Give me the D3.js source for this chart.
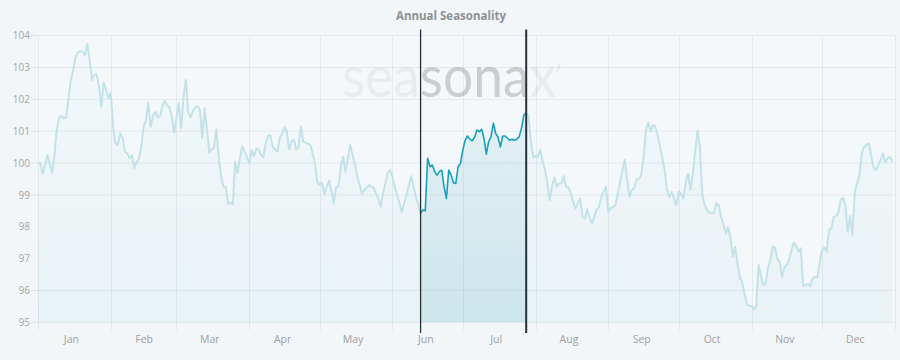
<!DOCTYPE html>
<html><head><meta charset="utf-8">
<script src="https://cdn.jsdelivr.net/npm/d3@7/dist/d3.min.js"></script>
<style>
html,body{margin:0;padding:0;background:#f3f6f9;}
svg{display:block;}
</style></head>
<body>
<svg id="chart" width="900" height="360"></svg>
<script>
const title = "Annual Seasonality";
const monthLabels = ["Jan","Feb","Mar","Apr","May","Jun","Jul","Aug","Sep","Oct","Nov","Dec"];
const yTickLabels = [104,103,102,101,100,99,98,97,96,95];
const gridValues = [104,103,102,101,100,99,96,95];
const highlightStartDay = 163; // Jun 13
const highlightEndDay = 208;   // Jul 28
const days = [0,1,2,4,6,7,8,9,10,11,12,13,14,15,16,17,18,19,20,21,22,23,24,25,26,27,28,29,30,31,32,33,34,35,36,37,38,39,40,41,42,43,44,45,46,47,48,49,50,51,52,53,54,55,56,57,58,60,61,62,63,64,65,66,67,68,69,70,71,72,73,74,75,76,77,78,79,80,81,82,83,84,85,86,87,88,90,91,92,93,94,95,96,97,98,99,100,102,103,104,105,106,107,108,109,110,111,112,113,114,116,117,118,119,120,121,122,123,124,125,126,127,128,129,130,131,132,133,134,135,136,137,138,139,141,142,143,144,145,146,147,148,149,150,151,152,154,155,156,157,159,160,161,162,163,164,165,166,167,168,169,170,171,172,173,174,175,176,177,178,179,180,181,182,183,184,185,186,187,188,189,190,191,192,193,194,195,196,197,198,199,200,201,202,203,204,205,206,207,208,209,210,211,212,213,214,215,216,217,218,219,220,221,222,223,224,225,226,227,228,229,230,231,232,233,234,235,236,237,238,239,240,241,242,243,244,245,246,247,248,249,250,251,252,253,254,255,256,257,258,259,260,261,262,263,264,265,266,267,268,269,270,271,272,273,274,275,276,277,278,279,280,281,282,283,284,285,286,288,289,290,291,292,293,294,295,296,297,298,299,300,301,302,303,304,305,306,307,308,309,310,311,312,313,314,315,316,317,318,319,320,321,322,323,324,325,326,327,328,329,330,331,332,333,334,335,336,337,338,339,340,341,342,343,344,345,346,347,348,349,350,351,352,353,354,355,356,357,358,359,360,361,362,363,364];
const values = [100.0,100.0,99.66,100.25,99.70,100.25,101.04,101.44,101.48,101.40,101.44,102.03,102.61,102.92,103.32,103.47,103.52,103.50,103.39,103.74,103.24,102.61,102.77,102.79,102.40,101.77,102.53,102.30,102.03,102.21,101.14,100.62,100.57,100.93,100.81,100.36,100.31,100.15,100.25,99.84,100.04,100.12,100.51,101.14,101.35,101.90,101.14,101.48,101.61,101.44,101.48,101.79,101.96,101.82,101.75,101.46,100.95,101.88,101.09,102.08,102.61,101.61,101.44,101.64,101.75,101.79,101.67,100.78,101.72,101.04,100.33,100.43,100.49,101.06,100.20,99.57,99.26,99.26,98.71,98.76,98.71,100.04,99.68,100.15,100.54,100.36,99.99,100.41,100.22,100.46,100.43,100.25,100.18,100.62,100.85,100.88,100.51,100.36,100.78,100.93,101.14,100.99,100.43,100.67,100.75,100.43,100.51,101.16,100.67,100.64,100.57,100.31,99.99,99.41,99.31,99.38,99.03,99.26,99.45,99.15,98.74,99.24,99.26,99.89,100.20,99.73,100.15,100.57,100.25,99.99,99.57,99.34,99.05,99.15,99.31,99.24,99.24,99.05,98.89,98.63,99.05,99.36,99.70,99.78,99.57,99.26,98.74,98.47,98.74,99.00,99.59,99.26,98.94,98.71,98.42,98.53,98.50,100.15,99.89,99.94,99.73,99.62,99.73,99.78,99.26,98.89,99.78,99.63,99.38,99.36,99.89,99.99,100.41,100.72,100.85,100.75,100.70,100.81,101.04,100.99,101.06,100.78,100.28,100.67,100.83,101.25,100.93,100.81,100.51,100.85,100.85,100.78,100.72,100.75,100.72,100.75,100.83,101.09,101.51,101.58,101.46,100.67,100.18,100.22,100.20,100.43,100.04,99.78,99.41,98.84,99.26,99.55,99.26,99.36,99.36,99.59,99.26,99.24,99.05,98.79,98.58,98.74,98.89,98.31,98.26,98.55,98.30,98.09,98.31,98.55,98.61,98.94,99.10,99.26,98.47,98.60,98.62,98.68,99.05,99.41,99.78,100.10,99.47,98.94,99.15,99.21,99.49,99.49,99.63,100.15,101.04,101.27,100.99,101.20,101.14,100.88,100.51,100.15,99.78,99.15,98.94,99.10,98.89,98.68,99.10,99.04,98.89,99.41,99.66,99.15,99.68,100.36,101.02,100.51,99.05,98.68,98.53,98.44,98.44,98.74,98.68,98.31,98.10,97.79,97.98,97.69,97.06,97.37,96.85,96.43,96.27,95.91,95.57,95.51,95.51,95.41,95.52,96.80,96.48,96.17,96.22,96.69,96.96,97.37,97.35,96.98,96.90,96.43,96.73,96.80,96.98,97.25,97.50,97.40,97.22,97.32,96.15,96.17,96.20,96.14,96.38,96.43,96.41,96.85,97.25,97.35,97.22,97.90,97.95,98.31,98.34,98.44,98.84,98.91,98.68,97.84,98.34,97.74,99.10,99.36,99.63,100.31,100.51,100.57,100.62,100.20,99.87,99.78,99.94,100.10,100.30,100.02,100.15,100.20,100.04];

(function(){
const start = new Date(2023,0,1);
const data = days.map((d,i)=>({date:d3.timeDay.offset(start,d), value:values[i], day:d}));

const svg = d3.select("#chart");
const pL = 38, pR = 894.7, pT = 35.7, pB = 322.3;
const x = d3.scaleTime().domain([start, new Date(2024,0,1)]).range([pL,pR]);
const y = d3.scaleLinear().domain([95,104]).range([pB,pT]);
const hx0 = x(d3.timeDay.offset(start,highlightStartDay));
const hx1 = x(d3.timeDay.offset(start,highlightEndDay));

const defs = svg.append("defs");
const g1 = defs.append("linearGradient").attr("id","areaGrad").attr("gradientUnits","userSpaceOnUse")
  .attr("x1",0).attr("x2",0).attr("y1",pT).attr("y2",pB);
g1.append("stop").attr("offset","0").attr("stop-color","#f2f8fa");
g1.append("stop").attr("offset","1").attr("stop-color","#e9f2f5");
const g2 = defs.append("linearGradient").attr("id","hiGrad").attr("gradientUnits","userSpaceOnUse")
  .attr("x1",0).attr("x2",0).attr("y1",pT).attr("y2",pB);
g2.append("stop").attr("offset","0").attr("stop-color","#eaf5f8");
g2.append("stop").attr("offset","1").attr("stop-color","#cde5ec");
defs.append("clipPath").attr("id","clipIn").append("rect")
  .attr("x",hx0).attr("y",0).attr("width",hx1-hx0).attr("height",360);
const cl = defs.append("clipPath").attr("id","clipOut");
cl.append("rect").attr("x",0).attr("y",0).attr("width",hx0).attr("height",360);
cl.append("rect").attr("x",hx1).attr("y",0).attr("width",900-hx1).attr("height",360);

svg.append("rect").attr("x",pL).attr("y",pT).attr("width",pR-pL).attr("height",pB-pT).attr("fill","#f5f8fa");

svg.append("text").attr("x",451).attr("y",20).attr("text-anchor","middle")
  .attr("font-family","'Open Sans', sans-serif").attr("font-weight",700).attr("font-size",11.5)
  .attr("fill","#8e9194").text(title);

function watermark(color, clip){
  const t = svg.append("text").attr("x",342).attr("y",97)
    .attr("font-family","Lato, 'Open Sans', sans-serif").attr("font-size",58).attr("font-weight",400)
    .attr("textLength",214).attr("lengthAdjust","spacingAndGlyphs")
    .attr("fill",color).text("seasonax");
  if(clip) t.attr("clip-path",clip);
}
watermark("#e9ebed", "url(#clipOut)");
watermark("#cbcdcf", "url(#clipIn)");
svg.append("path").attr("d","M559.5,65.5 L557.5,71").attr("stroke","#e6e8ea").attr("stroke-width",2.2).attr("stroke-linecap","round");

const area = d3.area().x(d=>x(d.date)).y0(pB).y1(d=>y(d.value));
svg.append("path").datum(data).attr("d",area).attr("fill","url(#areaGrad)").attr("clip-path","url(#clipOut)");
svg.append("path").datum(data).attr("d",area).attr("fill","url(#hiGrad)").attr("clip-path","url(#clipIn)");

const months = d3.range(0,13).map(m=>new Date(2023,m,1));
svg.append("g").selectAll("line").data(gridValues).join("line")
  .attr("x1",pL).attr("x2",pR).attr("y1",d=>y(d)).attr("y2",d=>y(d))
  .attr("stroke","rgba(110,140,160,0.12)").attr("stroke-width",1);
svg.append("g").selectAll("line").data(months).join("line")
  .attr("x1",d=>Math.round(x(d))+0.5).attr("x2",d=>Math.round(x(d))+0.5).attr("y1",pT).attr("y2",330)
  .attr("stroke","rgba(110,140,160,0.12)").attr("stroke-width",1);

const line = d3.line().x(d=>x(d.date)).y(d=>y(d.value));
svg.append("path").datum(data).attr("d",line).attr("fill","none")
  .attr("stroke","#c2e2ea").attr("stroke-width",2).attr("stroke-linejoin","round").attr("clip-path","url(#clipOut)");
const hiData = data.filter(d=>d.day>=highlightStartDay-1 && d.day<=highlightEndDay+1);
svg.append("path").datum(hiData).attr("d",line).attr("fill","none")
  .attr("stroke","#17a0ba").attr("stroke-width",1.6).attr("stroke-linejoin","round").attr("clip-path","url(#clipIn)");

svg.append("line").attr("x1",hx0).attr("x2",hx0).attr("y1",29.5).attr("y2",333)
  .attr("stroke","#26313b").attr("stroke-width",1.3);
svg.append("line").attr("x1",hx1).attr("x2",hx1).attr("y1",29.5).attr("y2",333)
  .attr("stroke","#26313b").attr("stroke-width",2);

const yAxis = d3.axisLeft(y).tickValues(yTickLabels).tickFormat(d3.format("d")).tickSize(0).tickPadding(8);
const ya = svg.append("g").attr("transform",`translate(${pL},0)`).call(yAxis);
ya.select(".domain").remove();
ya.selectAll("text").attr("font-family","'Open Sans', sans-serif").attr("font-size",10).attr("fill","#a3a6a9");
svg.append("g").selectAll("line").data(gridValues).join("line")
  .attr("x1",pL-7).attr("x2",pL).attr("y1",d=>y(d)).attr("y2",d=>y(d))
  .attr("stroke","rgba(110,140,160,0.18)").attr("stroke-width",1);

const xAxis = d3.axisBottom(x).tickValues(d3.range(12).map(m=>new Date(2023,m,15)))
  .tickFormat((d,i)=>monthLabels[i]).tickSize(0).tickPadding(0);
const xa = svg.append("g").attr("transform",`translate(0,340)`).call(xAxis);
xa.select(".domain").remove();
xa.selectAll("text").attr("font-family","'Open Sans', sans-serif").attr("font-size",10.5).attr("fill","#9da0a3").attr("dy","0.32em");
})();
</script>
</body></html>
